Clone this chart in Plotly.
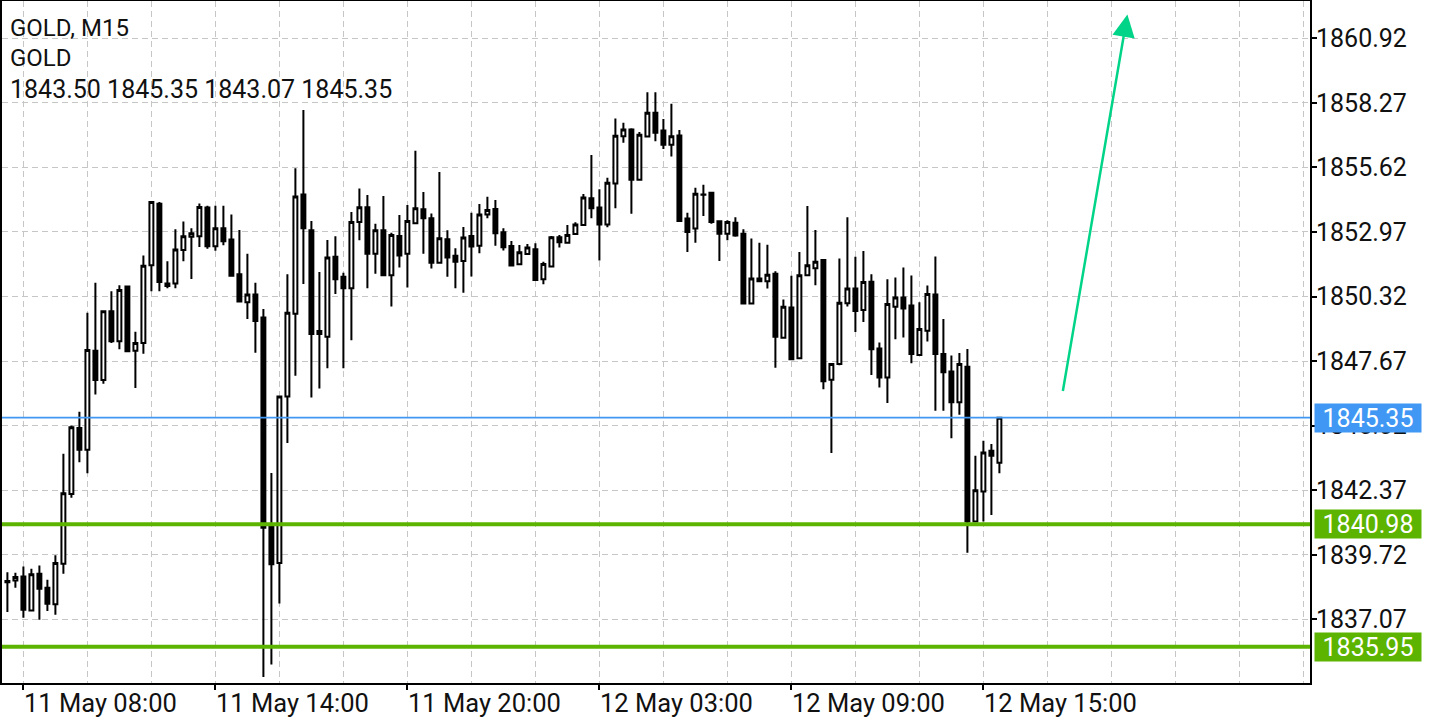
import plotly.graph_objects as go

# ---- data (M15 bars, GOLD) ----
bar_index = list(range(125))

open_ = [1838.65, 1838.67, 1838.83, 1837.44, 1838.94, 1838.37, 1837.69, 1839.35, 1842.22, 1844.93,
         1844.03, 1848.10, 1846.90, 1849.72, 1848.49, 1850.73, 1848.10, 1848.41, 1851.61, 1854.13,
         1850.86, 1850.86, 1852.23, 1852.77, 1852.79, 1853.97, 1852.38, 1853.12, 1852.66, 1851.24,
         1850.09, 1850.40, 1849.46, 1840.95, 1839.38, 1846.22, 1849.61, 1854.51, 1853.04, 1848.91,
         1848.67, 1851.95, 1851.13, 1850.66, 1853.38, 1853.99, 1852.08, 1853.04, 1851.19, 1852.81,
         1852.08, 1853.33, 1853.90, 1853.53, 1851.71, 1852.67, 1851.99, 1851.78, 1852.81, 1852.41,
         1853.69, 1853.91, 1852.96, 1852.40, 1851.65, 1852.07, 1852.26, 1851.03, 1851.55, 1852.75,
         1852.53, 1852.89, 1853.26, 1854.35, 1853.98, 1853.28, 1854.96, 1856.90, 1857.18, 1855.11,
         1856.89, 1857.86, 1857.14, 1856.55, 1856.93, 1853.52, 1853.11, 1854.51, 1854.58, 1853.41,
         1852.90, 1853.35, 1852.90, 1850.03, 1851.06, 1850.95, 1851.26, 1848.63, 1849.87, 1847.79,
         1851.19, 1851.48, 1851.82, 1846.91, 1847.55, 1850.05, 1850.65, 1849.77, 1850.93, 1848.19,
         1847.00, 1849.90, 1850.28, 1849.95, 1847.92, 1848.92, 1850.40, 1847.96, 1847.24, 1845.98,
         1847.44, 1841.09, 1842.32, 1843.99, 1843.50]

high = [1839.01, 1838.98, 1839.24, 1839.15, 1839.28, 1838.70, 1839.70, 1843.87, 1845.03, 1845.59,
        1849.66, 1850.89, 1849.72, 1850.54, 1850.78, 1850.73, 1848.88, 1852.00, 1854.20, 1854.20,
        1851.77, 1853.08, 1853.40, 1853.12, 1854.14, 1854.05, 1854.05, 1854.05, 1853.69, 1853.05,
        1852.08, 1850.89, 1849.81, 1843.08, 1846.22, 1851.24, 1855.59, 1857.98, 1853.42, 1851.33,
        1852.64, 1852.79, 1851.30, 1853.79, 1854.75, 1854.49, 1853.31, 1854.45, 1852.94, 1853.67,
        1854.08, 1856.30, 1854.61, 1853.73, 1855.43, 1853.04, 1852.30, 1853.17, 1853.76, 1854.12,
        1854.42, 1854.28, 1853.12, 1852.60, 1852.44, 1852.48, 1852.51, 1851.75, 1852.81, 1852.85,
        1853.26, 1853.37, 1854.53, 1856.13, 1854.72, 1855.20, 1857.63, 1857.45, 1857.23, 1857.07,
        1858.71, 1858.71, 1857.61, 1858.23, 1857.16, 1853.76, 1854.79, 1854.91, 1854.58, 1853.45,
        1853.45, 1853.58, 1853.08, 1852.70, 1852.53, 1852.45, 1851.36, 1850.20, 1851.17, 1852.15,
        1854.04, 1853.05, 1851.85, 1847.55, 1851.88, 1853.58, 1851.95, 1852.19, 1851.24, 1848.43,
        1851.03, 1851.10, 1851.51, 1851.18, 1850.09, 1850.77, 1851.96, 1849.40, 1847.90, 1848.00,
        1848.17, 1843.79, 1844.40, 1844.27, 1845.35]

low = [1837.37, 1838.37, 1837.14, 1837.40, 1837.06, 1837.41, 1837.26, 1838.94, 1842.06, 1843.52,
       1843.07, 1846.30, 1846.74, 1848.41, 1848.16, 1848.08, 1846.57, 1847.97, 1850.54, 1850.54,
       1850.66, 1850.66, 1851.77, 1851.04, 1852.35, 1852.28, 1852.20, 1852.43, 1851.17, 1850.09,
       1849.40, 1848.01, 1834.71, 1835.22, 1837.72, 1844.31, 1847.07, 1850.84, 1846.18, 1846.55,
       1847.38, 1850.42, 1847.38, 1848.53, 1852.63, 1850.66, 1851.26, 1851.19, 1849.91, 1851.51,
       1850.69, 1853.30, 1852.08, 1851.47, 1851.68, 1851.13, 1850.66, 1850.48, 1851.14, 1852.10,
       1853.53, 1852.41, 1852.21, 1851.55, 1851.62, 1852.03, 1850.98, 1850.83, 1851.52, 1852.33,
       1852.51, 1852.85, 1853.22, 1853.53, 1851.80, 1853.16, 1853.94, 1856.63, 1853.72, 1855.08,
       1856.85, 1856.69, 1856.38, 1856.07, 1853.42, 1852.15, 1852.53, 1853.63, 1853.31, 1851.78,
       1852.63, 1852.77, 1850.03, 1850.03, 1850.95, 1850.65, 1847.40, 1848.60, 1847.72, 1847.75,
       1851.15, 1850.78, 1846.52, 1843.90, 1847.50, 1849.91, 1848.87, 1849.28, 1847.10, 1846.59,
       1845.95, 1848.57, 1848.64, 1847.58, 1847.90, 1848.48, 1845.63, 1845.63, 1844.50, 1845.47,
       1839.81, 1841.05, 1841.09, 1841.35, 1843.07]

close = [1838.60, 1838.81, 1837.47, 1838.92, 1838.33, 1837.71, 1839.38, 1842.25, 1844.96, 1844.03,
         1848.13, 1846.90, 1849.72, 1848.49, 1850.59, 1848.08, 1848.41, 1851.58, 1854.20, 1850.92,
         1850.75, 1852.25, 1852.79, 1852.92, 1854.00, 1852.38, 1853.12, 1852.59, 1851.17, 1850.12,
         1850.40, 1849.32, 1840.83, 1839.33, 1846.22, 1849.66, 1854.43, 1853.12, 1848.78, 1848.78,
         1851.92, 1851.03, 1850.66, 1853.38, 1853.99, 1852.08, 1853.04, 1851.19, 1852.85, 1852.01,
         1853.42, 1853.94, 1853.53, 1851.71, 1852.71, 1851.92, 1851.75, 1852.74, 1852.37, 1853.69,
         1853.87, 1852.92, 1852.34, 1851.59, 1852.14, 1852.33, 1851.00, 1851.66, 1852.75, 1852.55,
         1852.85, 1853.28, 1854.39, 1853.94, 1853.28, 1854.99, 1856.92, 1857.18, 1855.11, 1856.96,
         1857.86, 1857.04, 1856.55, 1856.90, 1853.42, 1852.97, 1854.54, 1854.50, 1853.38, 1852.90,
         1853.38, 1852.83, 1850.03, 1851.06, 1850.95, 1851.22, 1848.67, 1849.90, 1847.75, 1851.19,
         1851.60, 1851.75, 1846.84, 1847.55, 1850.07, 1850.65, 1849.73, 1850.92, 1848.16, 1847.00,
         1850.01, 1850.28, 1849.83, 1847.96, 1848.99, 1850.43, 1847.96, 1847.21, 1845.98, 1847.55,
         1841.09, 1842.37, 1843.92, 1843.79, 1845.35]

time_tick_bars = [2, 26, 50, 74, 98, 122]
time_tick_labels = ["11 May 08:00", "11 May 14:00", "11 May 20:00",
                    "12 May 03:00", "12 May 09:00", "12 May 15:00"]

price_ticks = [1837.07, 1839.72, 1842.37, 1845.02, 1847.67,
               1850.32, 1852.97, 1855.62, 1858.27, 1860.92]

bid_price = 1845.35
level_prices = [1840.98, 1835.95]

arrow_from = (131.9, 1846.38)   # (bar, price)
arrow_to = (140.0, 1861.90)

header_lines = ["GOLD, M15", "GOLD", "1843.50 1845.35 1843.07 1845.35"]

# ---- styling ----
FONT = "Roboto"
TXT = "#111111"
GRID = "#c6c6c6"
DASH = "6px,4px"
GREEN = "#5cb400"
BLUE = "#4097f4"
ARROW = "#00d488"

fig = go.Figure()
fig.add_trace(go.Candlestick(
    x=bar_index, open=open_, high=high, low=low, close=close,
    increasing=dict(line=dict(color="black", width=2), fillcolor="white"),
    decreasing=dict(line=dict(color="black", width=2), fillcolor="black"),
    whiskerwidth=0, showlegend=False, hoverinfo="x+y",
))

shapes = [dict(type="line", xref="paper", x0=0, x1=1, yref="y", y0=bid_price, y1=bid_price,
               line=dict(color=BLUE, width=1.6), layer="above")]
for p in level_prices:
    shapes.append(dict(type="line", xref="paper", x0=0, x1=1, yref="y", y0=p, y1=p,
                       line=dict(color=GREEN, width=4), layer="above"))

annotations = []
for p, col in [(bid_price, BLUE)] + [(p, GREEN) for p in level_prices]:
    annotations.append(dict(
        x=1, xref="paper", xanchor="left", xshift=4, y=p, yref="y", yanchor="middle",
        text=f"{p:.2f}", showarrow=False, bgcolor=col, width=106, height=28,
        align="center", borderpad=0, font=dict(family=FONT, size=25, color="white")))

header_sizes = [24, 24, 25]
for i, line in enumerate(header_lines):
    annotations.append(dict(
        x=0, xref="paper", xanchor="left", xshift=6, y=1, yref="paper", yanchor="top",
        yshift=-10.5 - 30.5 * i, text=line, showarrow=False,
        font=dict(family=FONT, size=header_sizes[i], color=TXT)))

annotations.append(dict(
    x=arrow_to[0], y=arrow_to[1], xref="x", yref="y",
    ax=arrow_from[0], ay=arrow_from[1], axref="x", ayref="y",
    text="", showarrow=True, arrowhead=2, arrowsize=1.8, arrowwidth=2.5,
    arrowcolor=ARROW, standoff=0, startstandoff=0))

fig.update_layout(
    width=1440, height=720,
    margin=dict(l=2, r=130, t=1, b=37),
    paper_bgcolor="white", plot_bgcolor="white",
    shapes=shapes, annotations=annotations,
    font=dict(family=FONT, size=24, color=TXT),
    showlegend=False,
)

fig.update_xaxes(
    range=[-0.675, 162.825], rangeslider=dict(visible=False), automargin=False,
    tickmode="array", tickvals=time_tick_bars, ticktext=time_tick_labels,
    ticks="outside", ticklen=5, tickwidth=1.5, tickcolor="black",
    ticklabelshift=77, ticklabelstandoff=-9,
    tickfont=dict(family=FONT, size=25.5, color=TXT),
    showgrid=True, gridcolor=GRID, griddash=DASH, gridwidth=1,
    minor=dict(tick0=2, dtick=8, showgrid=True, gridcolor=GRID, griddash=DASH, gridwidth=1),
    showline=True, linecolor="black", linewidth=2, mirror=True, zeroline=False,
)
fig.update_yaxes(
    side="right", range=[1834.46, 1862.45], automargin=False,
    tickmode="array", tickvals=price_ticks, ticktext=[f"{v:.2f}" for v in price_ticks],
    ticks="outside", ticklen=5, tickwidth=1.5, tickcolor="black",
    ticklabelstandoff=-6,
    tickfont=dict(family=FONT, size=25, color=TXT),
    showgrid=True, gridcolor=GRID, griddash=DASH, gridwidth=1,
    showline=True, linecolor="black", linewidth=2, mirror=True, zeroline=False,
)

fig.write_html("out.html", config={"displayModeBar": False},
               post_script="document.body.style.margin='0';document.body.style.overflow='hidden';")
